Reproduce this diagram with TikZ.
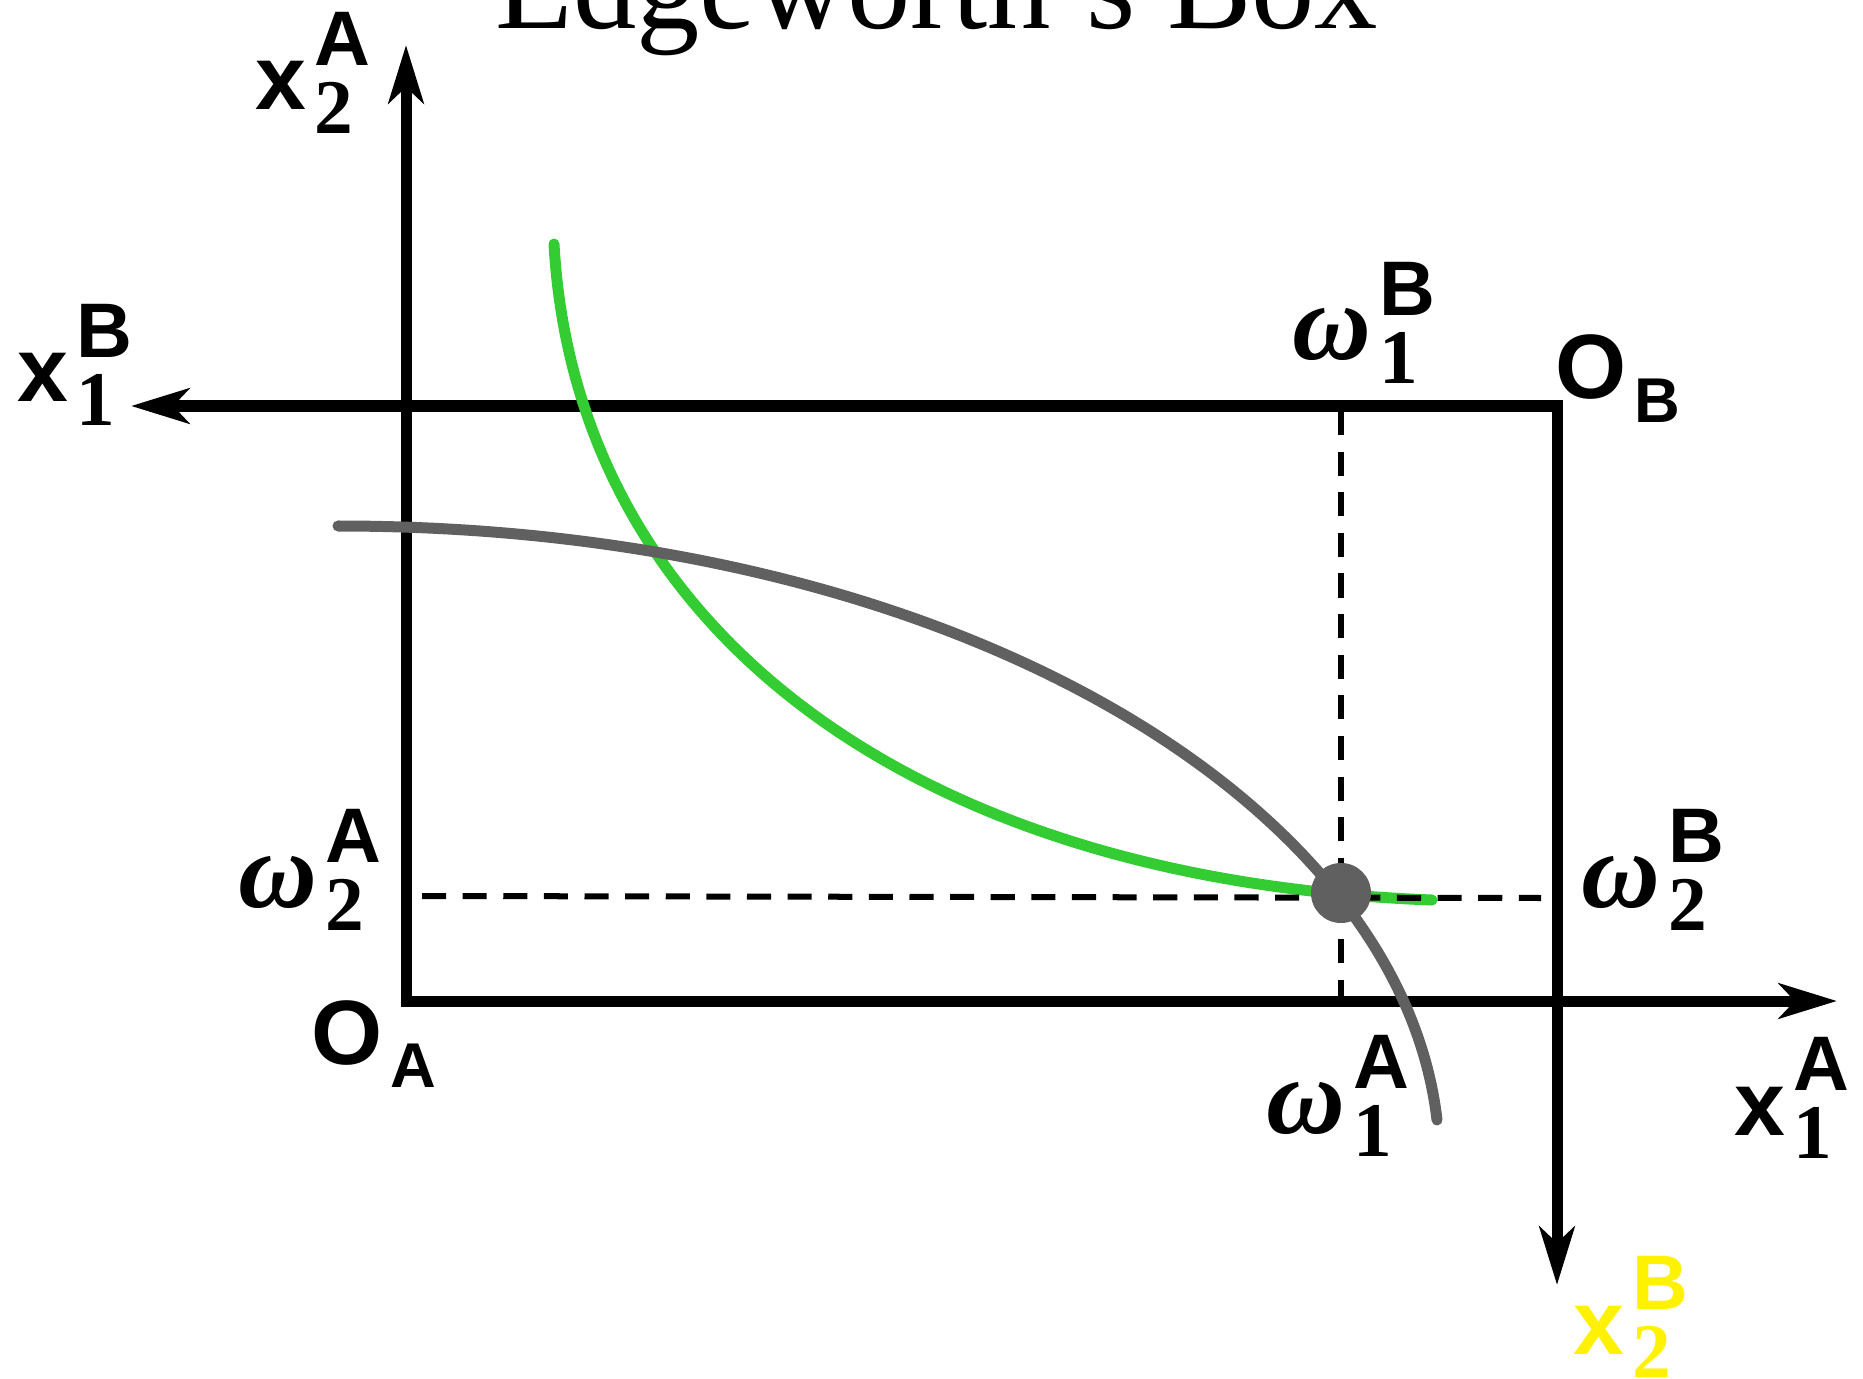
\documentclass[tikz,border=0pt]{standalone}
\usepackage{fontspec}
\setmainfont{Liberation Serif}
\newfontfamily\hv{Liberation Sans}
\usetikzlibrary{arrows.meta}
\definecolor{icgreen}{HTML}{33CC33}
\definecolor{icgray}{HTML}{606060}
\newcommand{\bigsans}{\fontsize{26pt}{26pt}\hv\bfseries}
\newcommand{\smsans}{\fontsize{22pt}{22pt}\hv\bfseries}
\newcommand{\subsans}{\fontsize{18pt}{18pt}\hv\bfseries}
\newcommand{\digf}{\fontsize{22pt}{22pt}\rmfamily\bfseries}
\newcommand{\omg}{{\fontsize{31pt}{31pt}\rmfamily\bfseries\itshape ω}}
\newcommand{\axlab}[3]{{#1}\kern0.08cm\rlap{\raisebox{0.44cm}{#2}}\raisebox{-0.23cm}{#3}}

\begin{document}
\begin{tikzpicture}[x=0.01cm, y=-0.01cm,
  every node/.style={inner sep=0, anchor=base west},
  axis/.style={line width=0.11cm, -{Stealth[length=0.58cm, width=0.35cm, inset=0.16cm]}},
  guide/.style={line width=0.06cm, dash pattern=on 0.24cm off 0.166cm},
  curve/.style={line width=0.11cm, line cap=round},
  dot/.style={circle, fill=icgray, minimum size=0.6cm, anchor=center}]
  \useasboundingbox (0,0) rectangle (1863,1379);

  \node (title) at (495,29) {\fontsize{36pt}{36pt}\selectfont Edgeworth's Box};

  \coordinate (OA) at (406,1001);
  \coordinate (OB) at (1557,406);
  \coordinate (x2Atip) at (406,45);
  \coordinate (x1Atip) at (1837,1001);
  \coordinate (x1Btip) at (131,406);
  \coordinate (x2Btip) at (1557,1285);

  \draw[axis] ([yshift=-0.055cm]OA) -- (x2Atip);
  \draw[axis] ([xshift=-0.055cm]OA) -- (x1Atip);
  \draw[axis] ([xshift=0.055cm]OB) -- (x1Btip);
  \draw[axis] ([yshift=0.055cm]OB) -- (x2Btip);

  % indifference curves
  \draw[curve, icgreen] (554,244) .. controls (575,620) and (900,880) .. (1432,900);
  \draw[curve, icgray] (338,526) .. controls (950,526) and (1400,800) .. (1437,1120);

  \draw[guide] (422,896) -- (1541,898);
  \draw[guide] (1341,411) -- (1341,1001);
  \node[dot] (endow) at (1341,893) {};

  \node (x2A) at (255,110) {\axlab{\bigsans x}{\smsans A}{\digf 2}};
  \node (x1B) at (17,402) {\axlab{\bigsans x}{\smsans B}{\digf 1}};
  \node (OBlab) at (1555,399) {\axlab{\bigsans O}{}{\subsans B}};
  \node (OAlab) at (311,1064) {\axlab{\bigsans O}{}{\subsans A}};
  \node (w1B) at (1292,360) {\axlab{\omg}{\smsans B}{\digf 1}};
  \node (w2A) at (238,907) {\axlab{\omg}{\smsans A}{\digf 2}};
  \node (w2B) at (1581,907) {\axlab{\omg}{\smsans B}{\digf 2}};
  \node (w1A) at (1266,1133) {\axlab{\omg}{\smsans A}{\digf 1}};
  \node (x1A) at (1734,1135) {\axlab{\bigsans x}{\smsans A}{\digf 1}};
  \node[yellow] (x2B) at (1573,1354) {\axlab{\bigsans x}{\smsans B}{\digf 2}};
\end{tikzpicture}
\end{document}
